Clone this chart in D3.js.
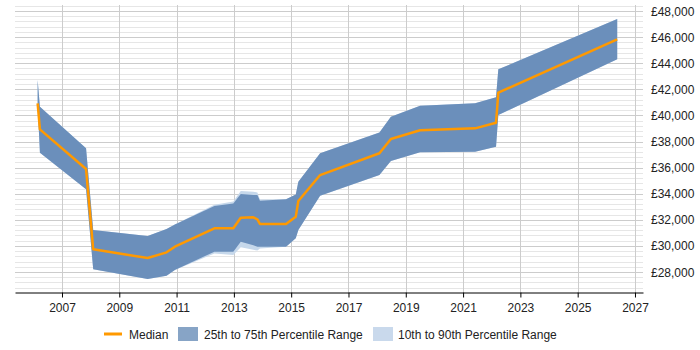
<!DOCTYPE html>
<html>
<head>
<meta charset="utf-8">
<script src="https://cdn.jsdelivr.net/npm/d3@7"></script>
<style>
  body { margin: 0; background: #fff; }
  svg { display: block; font-family: "Liberation Sans", Arial, sans-serif; }
</style>
</head>
<body>
<div id="chart"></div>
<script>
// data (year as decimal, salary in GBP)
var years  = [2006.15, 2006.23, 2007.84, 2008.09, 2009.99, 2010.65, 2010.94, 2012.32, 2012.98, 2013.24, 2013.68, 2013.82, 2013.91, 2014.82, 2015.16, 2015.25, 2016.01, 2018.08, 2018.48, 2019.50, 2021.42, 2022.15, 2022.23, 2026.38];
var median = [40930, 38935, 35890, 29740, 29070, 29510, 29940, 31350, 31350, 32160, 32190, 32040, 31680, 31680, 32240, 33440, 35430, 37100, 38190, 38860, 39010, 39440, 41740, 45830];
var p25    = [40800, 37140, 34340, 28210, 27460, 27720, 28150, 29560, 29560, 30320, 30050, 29940, 29940, 29940, 30580, 31220, 33850, 35430, 36510, 37170, 37220, 37600, 40030, 44300];
var p75    = [42710, 40670, 37480, 31220, 30760, 31300, 31650, 33060, 33260, 33980, 33900, 33900, 33460, 33570, 33950, 34920, 37100, 38700, 39900, 40740, 40930, 41390, 43530, 47390];
var p10    = [40800, 37140, 34340, 28210, 27460, 27720, 28150, 29420, 29300, 29900, 29700, 29650, 29800, 29940, 30580, 31220, 33850, 35430, 36510, 37170, 37220, 37600, 40030, 44300];
var p90    = [42710, 40670, 37480, 31220, 30760, 31300, 31650, 33150, 33400, 34200, 34150, 34100, 33550, 33570, 33950, 34920, 37100, 38700, 39900, 40740, 40930, 41390, 43530, 47390];

var xTicks = [2007, 2009, 2011, 2013, 2015, 2017, 2019, 2021, 2023, 2025, 2027];
var yTicks = [28000, 30000, 32000, 34000, 36000, 38000, 40000, 42000, 44000, 46000, 48000];
var legendLabels = ["Median", "25th to 75th Percentile Range", "10th to 90th Percentile Range"];

var width = 700, height = 350;

var svg = d3.select('#chart')
    .append('svg')
    .attr('width', width)
    .attr('height', height);

var x = d3.scaleLinear().domain([2005.36, 2027.28]).range([15, 643]);
var y = d3.scaleLinear().domain([26470, 48400]).range([292, 5.8]);

var rows = years.map(function (yr, i) {
    return { yr: yr, med: median[i], lo: p25[i], hi: p75[i], lo10: p10[i], hi90: p90[i] };
});

// grid
var grid = svg.append('g');
grid.selectAll('line.minor')
    .data(d3.range(26800, 48401, 400).filter(function (v) { return v % 2000 !== 0; }))
    .enter().append('line')
    .attr('x1', 15).attr('x2', 643)
    .attr('y1', function (d) { return Math.round(y(d)) + 0.5; })
    .attr('y2', function (d) { return Math.round(y(d)) + 0.5; })
    .attr('stroke', '#e6e6e6');
grid.selectAll('line.major')
    .data(yTicks)
    .enter().append('line')
    .attr('x1', 15).attr('x2', 643)
    .attr('y1', function (d) { return Math.round(y(d)) + 0.5; })
    .attr('y2', function (d) { return Math.round(y(d)) + 0.5; })
    .attr('stroke', '#cccccc');
grid.selectAll('line.vert')
    .data(xTicks)
    .enter().append('line')
    .attr('x1', function (d) { return Math.round(x(d)) + 0.5; })
    .attr('x2', function (d) { return Math.round(x(d)) + 0.5; })
    .attr('y1', 5).attr('y2', 292)
    .attr('stroke', '#cccccc');

// bands
var band90 = d3.area()
    .x(function (d) { return x(d.yr); })
    .y0(function (d) { return y(d.lo10); })
    .y1(function (d) { return y(d.hi90); });
var band75 = d3.area()
    .x(function (d) { return x(d.yr); })
    .y0(function (d) { return y(d.lo); })
    .y1(function (d) { return y(d.hi); });
var medLine = d3.line()
    .x(function (d) { return x(d.yr); })
    .y(function (d) { return y(d.med); });

svg.append('path').datum(rows).attr('d', band90).attr('fill', '#c6d8eb');
svg.append('path').datum(rows).attr('d', band75).attr('fill', '#6b8fbb');
svg.append('path').datum(rows).attr('d', medLine)
    .attr('fill', 'none')
    .attr('stroke', '#ff9900')
    .attr('stroke-width', 2.5)
    .attr('stroke-linejoin', 'round');

// x axis
var xAxis = svg.append('g')
    .attr('transform', 'translate(0,292.5)')
    .call(d3.axisBottom(x).tickValues(xTicks).tickFormat(d3.format('d')).tickSize(5).tickSizeOuter(0));
xAxis.select('.domain').attr('stroke', '#000');
xAxis.selectAll('.tick line').attr('stroke', '#000');
xAxis.selectAll('text').attr('font-size', 12).attr('fill', '#222').attr('dy', '0.95em')
    .attr('font-family', '"Liberation Sans", Arial, sans-serif');

// y labels on the right
svg.append('g').selectAll('text')
    .data(yTicks)
    .enter().append('text')
    .attr('x', 651)
    .attr('y', function (d) { return y(d) + 4.5; })
    .attr('font-size', 12)
    .attr('fill', '#222')
    .text(function (d) { return '£' + d3.format(',')(d); });

// legend
var lg = svg.append('g').attr('transform', 'translate(0,334)');
lg.append('line').attr('x1', 104).attr('x2', 122).attr('y1', 0).attr('y2', 0)
    .attr('stroke', '#ff9900').attr('stroke-width', 3);
lg.append('text').attr('x', 129).attr('y', 4.5).attr('font-size', 12).attr('fill', '#222').text(legendLabels[0]);
lg.append('rect').attr('x', 178).attr('y', -7).attr('width', 20).attr('height', 14).attr('fill', '#87a4c6');
lg.append('text').attr('x', 204).attr('y', 4.5).attr('font-size', 12).attr('fill', '#222').text(legendLabels[1]);
lg.append('rect').attr('x', 373).attr('y', -7).attr('width', 20).attr('height', 14).attr('fill', '#c9d9ec');
lg.append('text').attr('x', 398).attr('y', 4.5).attr('font-size', 12).attr('fill', '#222').text(legendLabels[2]);
</script>
</body>
</html>
